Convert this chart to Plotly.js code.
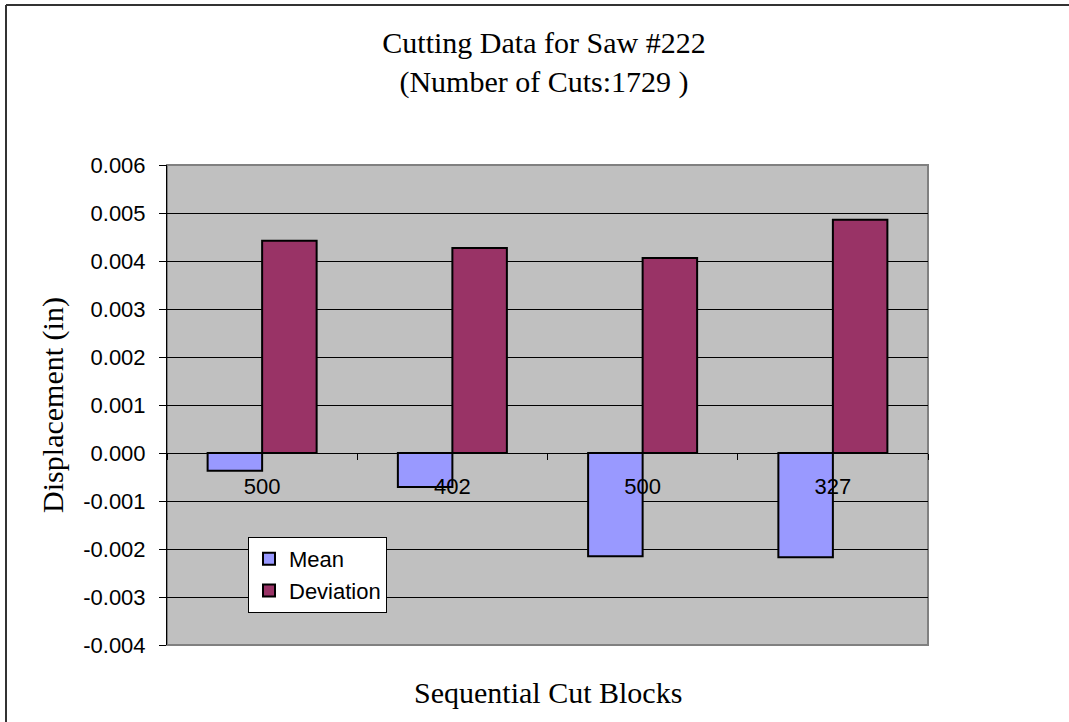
<!DOCTYPE html>
<html>
<head>
<meta charset="utf-8">
<script src="https://cdn.plot.ly/plotly-3.0.1.min.js"></script>
<style>html,body{margin:0;padding:0;background:#fff;}#chart{width:1069px;height:722px;}</style>
</head>
<body>
<div id="chart"></div>
<script>
// ---- data ----
const categories = ["Block 1", "Block 2", "Block 3", "Block 4"];
const cutLabels = ["500", "402", "500", "327"];
const meanValues = [-0.00037, -0.00071, -0.00215, -0.00217];
const deviationValues = [0.00442, 0.00427, 0.00406, 0.00486];
const yTickValues = [0.006, 0.005, 0.004, 0.003, 0.002, 0.001, 0, -0.001, -0.002, -0.003, -0.004];
const yTickLabels = ["0.006", "0.005", "0.004", "0.003", "0.002", "0.001", "0.000", "-0.001", "-0.002", "-0.003", "-0.004"];
const titleLines = ["Cutting Data for Saw #222", "(Number of Cuts:1729 )"];
const xTitle = "Sequential Cut Blocks";
const yTitle = "Displacement (in)";
const seriesNames = ["Mean", "Deviation"];

// ---- layout geometry ----
const W = 1069, H = 722;
const L = 167, R = 141, T = 165, B = 77;
const pw = W - L - R, ph = H - T - B;
const px = x => (x - L) / pw;
const py = y => (H - B - y) / ph;

const sans = "Liberation Sans, Arial, sans-serif";
const serif = "Liberation Serif, Times New Roman, serif";

const traces = [
  {
    type: "bar", name: seriesNames[0], x: categories, y: meanValues,
    marker: {color: "#9999FF", line: {color: "#000000", width: 2}}
  },
  {
    type: "bar", name: seriesNames[1], x: categories, y: deviationValues,
    marker: {color: "#993366", line: {color: "#000000", width: 2}}
  }
];

const yMin = -0.004, yMax = 0.006;
const zeroFrac = (0 - yMin) / (yMax - yMin);

const layout = {
  width: W, height: H,
  margin: {l: L, r: R, t: T, b: B, pad: 0},
  paper_bgcolor: "#ffffff",
  plot_bgcolor: "#C0C0C0",
  barmode: "group",
  bargap: 0.427,
  bargroupgap: 0,
  showlegend: true,
  title: {
    text: titleLines.join("<br>"),
    font: {family: serif, size: 30, color: "#000"},
    x: px(544), xanchor: "center", xref: "paper",
    y: 1 - 53 / H, yref: "container", yanchor: "middle"
  },
  xaxis: {
    type: "category",
    anchor: "free", position: zeroFrac,
    showline: true, linecolor: "#000", linewidth: 1,
    ticks: "outside", tickson: "boundaries", ticklen: 6, tickcolor: "#000", tickwidth: 1,
    tickmode: "array", tickvals: categories, ticktext: cutLabels,
    tickfont: {family: sans, size: 22, color: "#000"},
    ticklabelstandoff: 14,
    showgrid: false, zeroline: false, automargin: false,
    range: [-0.5, 3.5]
  },
  yaxis: {
    range: [yMin, yMax],
    showline: true, linecolor: "#000", linewidth: 1,
    ticks: "outside", ticklen: 7, tickcolor: "#000", tickwidth: 1,
    tickmode: "array", tickvals: yTickValues, ticktext: yTickLabels,
    tickfont: {family: sans, size: 22, color: "#000"},
    ticklabelstandoff: 9,
    showgrid: true, gridcolor: "#000", gridwidth: 1,
    zeroline: false, automargin: false,
    title: {text: yTitle, font: {family: serif, size: 30, color: "#000"}, standoff: 10}
  },
  legend: {
    x: px(248), y: py(537), xanchor: "left", yanchor: "top",
    bgcolor: "#ffffff", bordercolor: "#000", borderwidth: 1,
    font: {family: sans, size: 22, color: "#000"},
    traceorder: "normal", itemwidth: 30
  },
  annotations: [
    {
      text: xTitle, xref: "paper", yref: "paper",
      x: px(547.5), y: py(692), xanchor: "center", yanchor: "middle",
      showarrow: false, font: {family: serif, size: 30, color: "#000"}
    }
  ],
  shapes: [
    // plot area border (gray)
    {type: "rect", xref: "paper", yref: "paper", x0: 0, x1: 1, y0: 0, y1: 1,
     line: {color: "#808080", width: 2}, layer: "below"},
    // outer chart frame (left and top edges)
    {type: "line", xref: "paper", yref: "paper", x0: px(6), x1: px(6), y0: py(5), y1: py(730),
     line: {color: "#333333", width: 2}},
    {type: "line", xref: "paper", yref: "paper", x0: px(6), x1: px(1075), y0: py(5), y1: py(5),
     line: {color: "#333333", width: 2}}
  ]
};

Plotly.newPlot("chart", traces, layout, {displayModeBar: false, staticPlot: true});
</script>
</body>
</html>
